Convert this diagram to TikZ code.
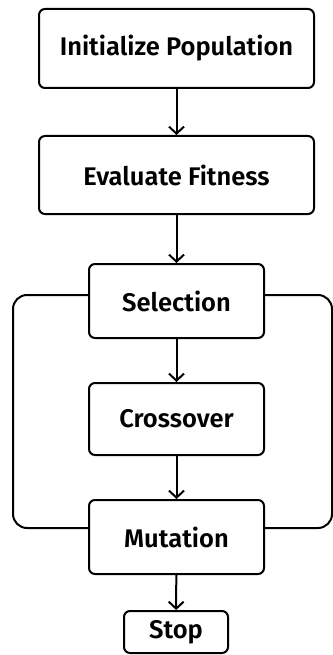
\documentclass[tikz,border=0pt]{standalone}
\usepackage{fontspec}
\setmainfont{Fira Sans}[BoldFont={Fira Sans SemiBold}]
\usetikzlibrary{arrows.meta}
\begin{document}
\begin{tikzpicture}[x=1pt,y=-1pt,
  box/.style={draw, line width=2pt, rounded corners=6pt, font=\bfseries\fontsize{25.5}{29}\selectfont, inner sep=0pt, anchor=north west},
  flow/.style={line width=2pt, -{Straight Barb[length=7pt,width=15pt,line width=2pt]}},
  loop/.style={line width=2pt, rounded corners=14pt}]
\useasboundingbox (0,0) rectangle (332,655);
\node[box, minimum width=275pt, minimum height=79pt] (init) at (38,8) {Initialize Population};
\node[box, minimum width=275pt, minimum height=78pt] (eval) at (38,135) {Evaluate Fitness};
\node[box, minimum width=175pt, minimum height=74pt] (sel) at (88,263) {Selection};
\node[box, minimum width=175pt, minimum height=72pt] (cross) at (88,382) {Crossover};
\node[box, minimum width=175pt, minimum height=74pt] (mut) at (88,499) {Mutation};
\node[box, minimum width=104pt, minimum height=42pt] (stop) at (123,610) {Stop};
\draw[flow] (init) -- (eval);
\draw[flow] (eval) -- (sel);
\draw[flow] (sel) -- (cross);
\draw[flow] (cross) -- (mut);
\draw[flow] (mut) -- (stop);
\coordinate (lt) at (13,295);
\coordinate (lb) at (13,528);
\coordinate (rt) at (332,295);
\coordinate (rb) at (332,528);
\draw[loop] (sel.west |- lt) -- (lt) -- (lb) -- (mut.west |- lb);
\draw[loop] (sel.east |- rt) -- (rt) -- (rb) -- (mut.east |- rb);
\end{tikzpicture}
\end{document}
